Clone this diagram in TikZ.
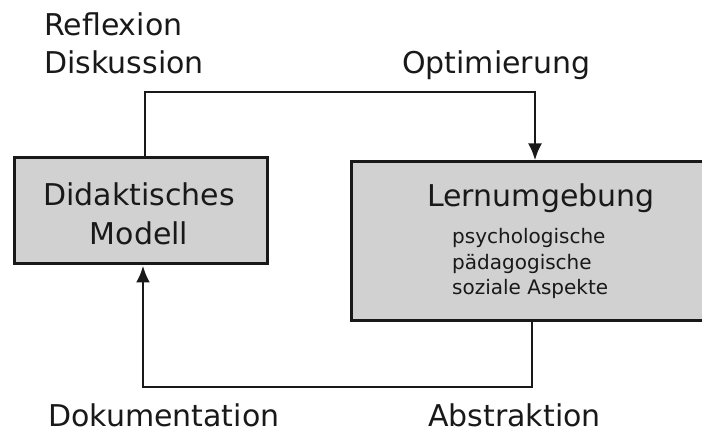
\documentclass[tikz,border=0pt]{standalone}
\usepackage{fontspec}
\setmainfont{DejaVu Sans}
\usetikzlibrary{arrows.meta}
\begin{document}
\begin{tikzpicture}[x=1pt,y=1pt,
  box/.style={draw=black!90, line width=3pt, fill=black!18, inner sep=0pt},
  big/.style={font=\fontsize{30}{36}\selectfont, inner sep=0pt, text=black!90},
  small/.style={font=\fontsize{20}{24}\selectfont, inner sep=0pt, anchor=base west, text=black!90},
  flow/.style={draw=black!90, line width=2.8pt, -{Latex[length=17pt,width=14pt]}}]
  \useasboundingbox (0,0) rectangle (702,435);
  \clip (0,0) rectangle (702,435);

  % the two boxes
  \node[box, minimum width=253pt, minimum height=106pt] (dm) at (140.5,224) {};
  \node[box, minimum width=380pt, minimum height=159pt] (lu) at (541,193.5) {};

  % box contents
  \node[big, anchor=base] (dm1) at (139,229) {Didaktisches};
  \node[big, anchor=base] (dm2) at (139,190) {Modell};
  \node[big, anchor=base] (lu1) at (541,228) {Lernumgebung};
  \node[small] (lu2) at (452,191) {psychologische};
  \node[small] (lu3) at (452,165.5) {pädagogische};
  \node[small] (lu4) at (452,140) {soziale Aspekte};

  % loop corners
  \coordinate (tl) at (145,343);
  \coordinate (tr) at (535,343);
  \coordinate (br) at (532,48);
  \coordinate (bl) at (143,48);

  \draw[flow] (dm.north -| tl) -- (tl) -- (tr) -- (lu.north -| tr);
  \draw[flow] (lu.south -| br) -- (br) -- (bl) -- (dm.south -| bl);

  % labels around the loop
  \node[big, anchor=base west] (refl) at (44,399) {Reflexion};
  \node[big, anchor=base west] (disk) at (44,361) {Diskussion};
  \node[big, anchor=base west] (opt) at (402,361) {Optimierung};
  \node[big, anchor=base west] (doku) at (48,8) {Dokumentation};
  \node[big, anchor=base west] (abs) at (428,8) {Abstraktion};
\end{tikzpicture}
\end{document}
